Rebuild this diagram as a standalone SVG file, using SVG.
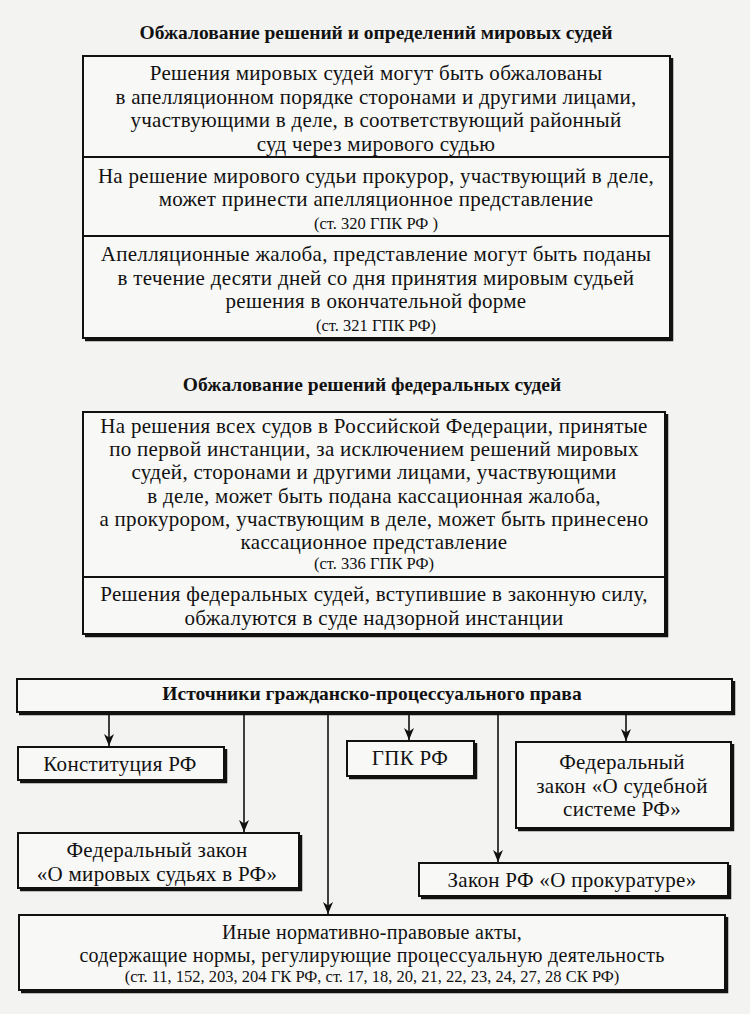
<svg xmlns="http://www.w3.org/2000/svg" width="750" height="1014" viewBox="0 0 750 1014">
<style>
text{font-family:"Liberation Serif","Times New Roman",serif;fill:#111;text-anchor:middle}
.t{font-size:21px;letter-spacing:0.3px}
.s{font-size:16.5px}
.b{font-size:19.5px;font-weight:bold}
.box{fill:#f8f8f6;stroke:#111;stroke-width:2}
.sh{fill:none;stroke:#111;stroke-width:3.5}
.ln{stroke:#111;stroke-width:1.6;fill:none}
.dv{stroke:#111;stroke-width:1.8}
</style>
<defs>
<marker id="ah" viewBox="0 0 12 10" refX="12" refY="5" markerWidth="12" markerHeight="10" markerUnits="userSpaceOnUse" orient="auto">
<path d="M0,0 L12,5 L0,10 L3.5,5 Z" fill="#111"/>
</marker>
</defs>
<rect x="0" y="0" width="750" height="1014" fill="#f3f3f1"/>

<g id="title1"><text class="b" x="376" y="39">Обжалование решений и определений мировых судей</text></g>

<g id="box1">
<rect class="box" x="83" y="56" width="587" height="282"/>
<polyline class="sh" points="85,339.5 671.5,339.5 671.5,58"/>
<line class="dv" x1="83" y1="157" x2="670" y2="157"/>
<line class="dv" x1="83" y1="236" x2="670" y2="236"/>
<text class="t" x="376" y="80">Решения мировых судей могут быть обжалованы</text>
<text class="t" x="376" y="103.5">в апелляционном порядке сторонами и другими лицами,</text>
<text class="t" x="376" y="127">участвующими в деле, в соответствующий районный</text>
<text class="t" x="376" y="150.5">суд через мирового судью</text>
<text class="t" x="376" y="183">На решение мирового судьи прокурор, участвующий в деле,</text>
<text class="t" x="376" y="206">может принести апелляционное представление</text>
<text class="s" x="376" y="229">(ст. 320 ГПК РФ )</text>
<text class="t" x="376" y="261">Апелляционные жалоба, представление могут быть поданы</text>
<text class="t" x="376" y="284.5">в течение десяти дней со дня принятия мировым судьей</text>
<text class="t" x="376" y="308">решения в окончательной форме</text>
<text class="s" x="376" y="331">(ст. 321 ГПК РФ)</text>
</g>

<g id="title2"><text class="b" x="372" y="391">Обжалование решений федеральных судей</text></g>

<g id="box2">
<rect class="box" x="83" y="412" width="582" height="222"/>
<polyline class="sh" points="85,635.5 666.5,635.5 666.5,414"/>
<line class="dv" x1="83" y1="577" x2="665" y2="577"/>
<text class="t" x="374" y="433">На решения всех судов в Российской Федерации, принятые</text>
<text class="t" x="374" y="456.2">по первой инстанции, за исключением решений мировых</text>
<text class="t" x="374" y="479.4">судей, сторонами и другими лицами, участвующими</text>
<text class="t" x="374" y="502.6">в деле, может быть подана кассационная жалоба,</text>
<text class="t" x="374" y="525.8">а прокурором, участвующим в деле, может быть принесено</text>
<text class="t" x="374" y="549">кассационное представление</text>
<text class="s" x="374" y="569">(ст. 336 ГПК РФ)</text>
<text class="t" x="374" y="601">Решения федеральных судей, вступившие в законную силу,</text>
<text class="t" x="374" y="624.5">обжалуются в суде надзорной инстанции</text>
</g>

<g id="sources">
<rect class="box" x="17" y="679" width="715" height="33"/>
<polyline class="sh" points="19,713.5 733.5,713.5 733.5,681"/>
<text class="b" x="372" y="700">Источники гражданско-процессуального права</text>
</g>

<g id="connectors">
<line class="ln" x1="109" y1="714" x2="109" y2="746" marker-end="url(#ah)"/>
<line class="ln" x1="244" y1="714" x2="244" y2="832" marker-end="url(#ah)"/>
<line class="ln" x1="328" y1="714" x2="328" y2="914" marker-end="url(#ah)"/>
<line class="ln" x1="409" y1="714" x2="409" y2="740" marker-end="url(#ah)"/>
<line class="ln" x1="498" y1="714" x2="498" y2="862" marker-end="url(#ah)"/>
<line class="ln" x1="626" y1="714" x2="626" y2="741" marker-end="url(#ah)"/>
</g>

<g id="konst">
<rect class="box" x="18" y="747" width="206" height="33"/>
<polyline class="sh" points="20,781.5 225.5,781.5 225.5,749"/>
<text class="t" x="120" y="771">Конституция РФ</text>
</g>

<g id="gpk">
<rect class="box" x="347" y="741" width="127" height="35"/>
<polyline class="sh" points="349,777.5 475.5,777.5 475.5,743"/>
<text class="t" x="410" y="765">ГПК РФ</text>
</g>

<g id="fz-sud">
<rect class="box" x="516" y="742" width="215" height="86"/>
<polyline class="sh" points="518,829.5 732.5,829.5 732.5,744"/>
<text class="t" x="622" y="769">Федеральный</text>
<text class="t" x="622" y="792.5">закон «О судебной</text>
<text class="t" x="622" y="816">системе РФ»</text>
</g>

<g id="fz-mir">
<rect class="box" x="18" y="833" width="281" height="55"/>
<polyline class="sh" points="20,889.5 300.5,889.5 300.5,835"/>
<text class="t" x="157" y="857">Федеральный закон</text>
<text class="t" x="157" y="880.5">«О мировых судьях в РФ»</text>
</g>

<g id="prok">
<rect class="box" x="419" y="863" width="309" height="33"/>
<polyline class="sh" points="421,897.5 729.5,897.5 729.5,865"/>
<text class="t" x="572" y="887">Закон РФ «О прокуратуре»</text>
</g>

<g id="other">
<rect class="box" x="19" y="915" width="706" height="75"/>
<polyline class="sh" points="21,991.5 726.5,991.5 726.5,917"/>
<text class="t" x="372" y="939" style="font-size:20px">Иные нормативно-правовые акты,</text>
<text class="t" x="372" y="961.5" style="font-size:20px">содержащие нормы, регулирующие процессуальную деятельность</text>
<text class="s" x="372" y="982">(ст. 11, 152, 203, 204 ГК РФ,  ст. 17, 18, 20, 21, 22, 23, 24, 27, 28 СК РФ)</text>
</g>
</svg>
